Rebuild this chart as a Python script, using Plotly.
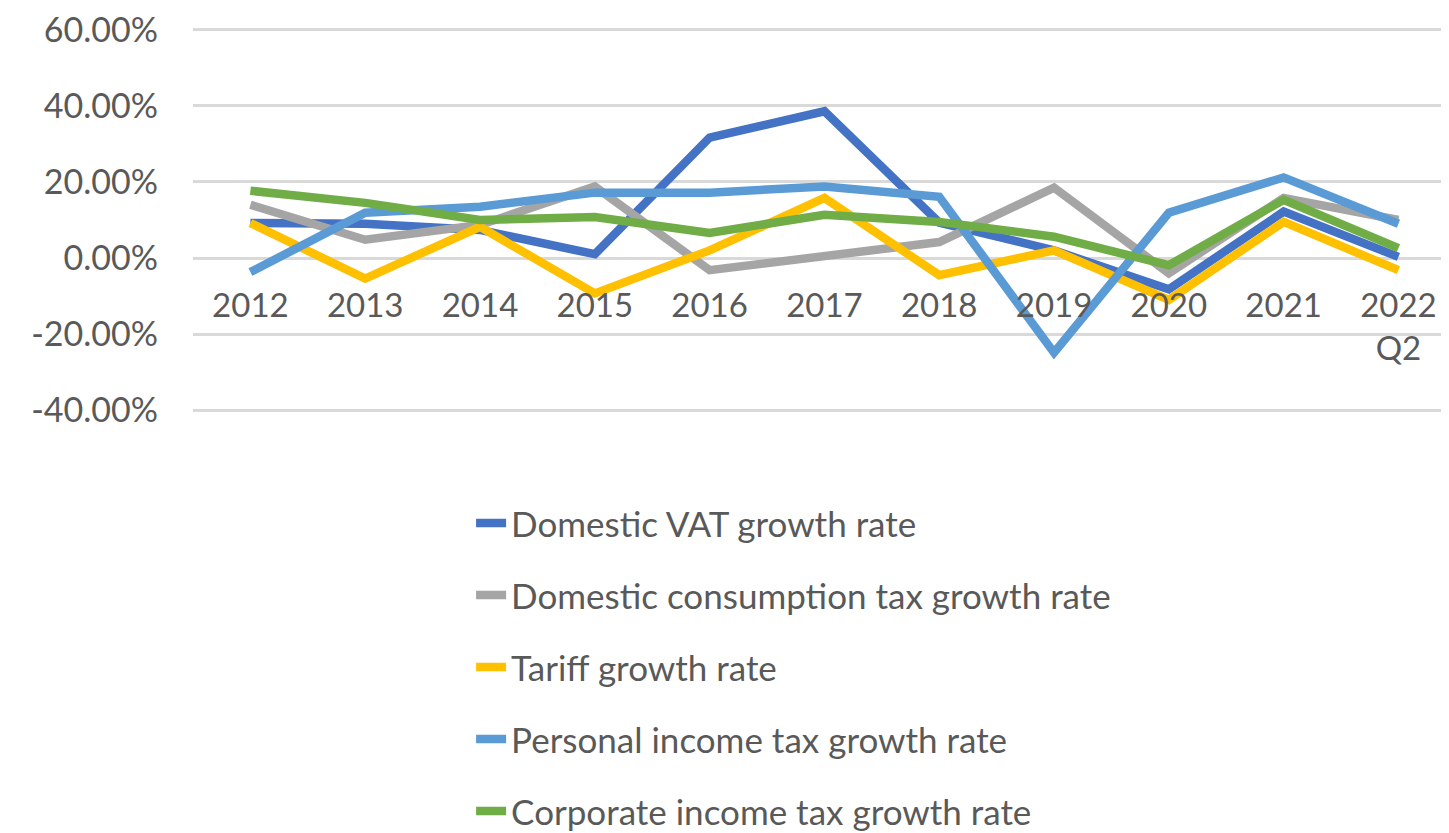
import plotly.graph_objects as go

categories = ["2012", "2013", "2014", "2015", "2016", "2017", "2018", "2019", "2020", "2021", "2022<br>Q2"]

vat = [0.092, 0.090, 0.074, 0.010, 0.317, 0.386, 0.093, 0.020, -0.082, 0.122, 0.003]
consumption = [0.140, 0.048, 0.087, 0.188, -0.032, 0.004, 0.042, 0.185, -0.040, 0.158, 0.100]
tariff = [0.092, -0.054, 0.082, -0.093, 0.020, 0.158, -0.045, 0.020, -0.110, 0.095, -0.032]
personal = [-0.037, 0.119, 0.135, 0.172, 0.172, 0.188, 0.161, -0.249, 0.119, 0.212, 0.090]
corporate = [0.177, 0.145, 0.100, 0.108, 0.066, 0.114, 0.095, 0.056, -0.019, 0.153, 0.026]

y_ticks = [-0.4, -0.2, 0.0, 0.2, 0.4, 0.6]
y_tick_labels = ["-40.00%", "-20.00%", "0.00%", "20.00%", "40.00%", "60.00%"]

series_names = [
    "Domestic VAT growth rate",
    "Domestic consumption tax growth rate",
    "Tariff growth rate",
    "Personal income tax growth rate",
    "Corporate income tax growth rate",
]
series_values = [vat, consumption, tariff, personal, corporate]
colors = ["#4472C4", "#A5A5A5", "#FFC000", "#5B9BD5", "#70AD47"]

FONT = "Lato"
TEXT = "#595959"

fig = go.Figure()
for i, (name, vals, col) in enumerate(zip(series_names, series_values, colors)):
    fig.add_trace(go.Scatter(
        x=list(range(len(categories))), y=vals, name=name, mode="lines",
        line=dict(color=col, width=8.5),
        legendgroup=f"g{i}",
    ))

y_lo, y_hi = -0.405, 0.605

fig.update_layout(
    width=1449, height=833,
    margin=dict(l=185, r=0, t=20, b=429, autoexpand=False),
    paper_bgcolor="white", plot_bgcolor="white",
    font=dict(family=FONT, color=TEXT, size=33),
    showlegend=True,
    legend=dict(
        xref="container", yref="container",
        x=0.3196, y=0.417, xanchor="left", yanchor="top",
        font=dict(family=FONT, size=35, color=TEXT),
        tracegroupgap=23.5, itemwidth=30,
        bgcolor="rgba(0,0,0,0)",
    ),
    xaxis=dict(
        range=[-0.5, 10.51],
        tickmode="array", tickvals=list(range(len(categories))), ticktext=categories,
        showgrid=False, zeroline=False, showline=False,
        anchor="free", position=(0 - y_lo) / (y_hi - y_lo),
        ticks="", ticklabelstandoff=25, tickangle=0,
        ticklabeloverflow="allow",
        tickfont=dict(family=FONT, size=33, color=TEXT),
    ),
    yaxis=dict(
        range=[y_lo, y_hi],
        tickmode="array", tickvals=y_ticks, ticktext=y_tick_labels,
        showgrid=True, gridcolor="#D9D9D9", gridwidth=2.5,
        zeroline=False, showline=False,
        ticks="", ticklabelstandoff=34,
        ticklabeloverflow="allow",
        tickfont=dict(family=FONT, size=34, color=TEXT),
    ),
)

fig.write_html("out.html")
